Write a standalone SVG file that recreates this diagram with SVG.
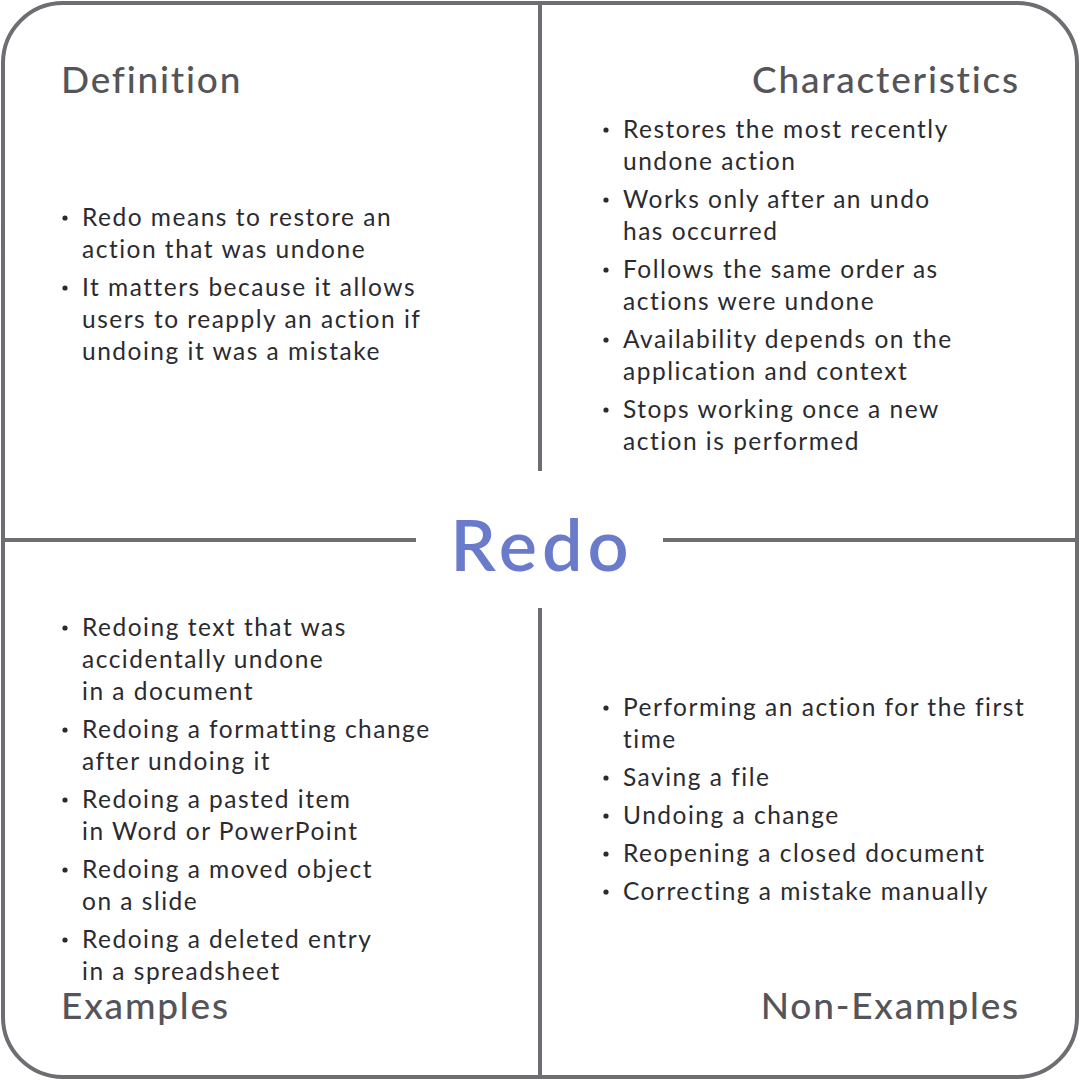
<svg xmlns="http://www.w3.org/2000/svg" width="1080" height="1080" viewBox="0 0 1080 1080">
<style>
.ln{stroke:#6d6d72;stroke-width:4;fill:none}
.h{font-family:Lato,"Open Sans",sans-serif;font-size:37px;fill:#555559;font-weight:500;letter-spacing:1.8px}
.t{font-family:Lato,"Open Sans",sans-serif;font-size:24.5px;fill:#2b2b2f;letter-spacing:1.5px}
.c{font-family:Lato,"Open Sans",sans-serif;font-size:72px;fill:#6b7bcb;font-weight:600;letter-spacing:5px}
.b{fill:#2b2b2f}
</style>
<rect width="1080" height="1080" fill="#fff"/>
<g id="connectors">
<rect class="ln" x="3" y="3" width="1074" height="1074" rx="60"/>
<line class="ln" x1="540" y1="3" x2="540" y2="471"/>
<line class="ln" x1="540" y1="608" x2="540" y2="1077"/>
<line class="ln" x1="3" y1="540" x2="416" y2="540"/>
<line class="ln" x1="663" y1="540" x2="1077" y2="540"/>
</g>
<defs><circle id="d" r="2.6" class="b"/></defs>
<g id="center"><text class="c" x="542" y="571" text-anchor="middle">Redo</text></g>
<g id="definition">
<text class="h" x="61" y="93">Definition</text>
<use href="#d" x="65" y="218"/><text class="t" x="82" y="226">Redo means to restore an</text>
<text class="t" x="82" y="258">action that was undone</text>
<use href="#d" x="65" y="288"/><text class="t" x="82" y="296">It matters because it allows</text>
<text class="t" x="82" y="328">users to reapply an action if</text>
<text class="t" x="82" y="360">undoing it was a mistake</text>
</g>
<g id="characteristics">
<text class="h" x="1020" y="93" text-anchor="end">Characteristics</text>
<use href="#d" x="606" y="130"/><text class="t" x="623" y="138">Restores the most recently</text>
<text class="t" x="623" y="170">undone action</text>
<use href="#d" x="606" y="200"/><text class="t" x="623" y="208">Works only after an undo</text>
<text class="t" x="623" y="240">has occurred</text>
<use href="#d" x="606" y="270"/><text class="t" x="623" y="278">Follows the same order as</text>
<text class="t" x="623" y="310">actions were undone</text>
<use href="#d" x="606" y="340"/><text class="t" x="623" y="348">Availability depends on the</text>
<text class="t" x="623" y="380">application and context</text>
<use href="#d" x="606" y="410"/><text class="t" x="623" y="418">Stops working once a new</text>
<text class="t" x="623" y="450">action is performed</text>
</g>
<g id="examples">
<text class="h" x="61" y="1019">Examples</text>
<use href="#d" x="65" y="628"/><text class="t" x="82" y="636">Redoing text that was</text>
<text class="t" x="82" y="668">accidentally undone</text>
<text class="t" x="82" y="700">in a document</text>
<use href="#d" x="65" y="730"/><text class="t" x="82" y="738">Redoing a formatting change</text>
<text class="t" x="82" y="770">after undoing it</text>
<use href="#d" x="65" y="800"/><text class="t" x="82" y="808">Redoing a pasted item</text>
<text class="t" x="82" y="840">in Word or PowerPoint</text>
<use href="#d" x="65" y="870"/><text class="t" x="82" y="878">Redoing a moved object</text>
<text class="t" x="82" y="910">on a slide</text>
<use href="#d" x="65" y="940"/><text class="t" x="82" y="948">Redoing a deleted entry</text>
<text class="t" x="82" y="980">in a spreadsheet</text>
</g>
<g id="nonexamples">
<text class="h" x="1020" y="1019" text-anchor="end">Non-Examples</text>
<use href="#d" x="606" y="708"/><text class="t" x="623" y="716">Performing an action for the first</text>
<text class="t" x="623" y="748">time</text>
<use href="#d" x="606" y="778"/><text class="t" x="623" y="786">Saving a file</text>
<use href="#d" x="606" y="816"/><text class="t" x="623" y="824">Undoing a change</text>
<use href="#d" x="606" y="854"/><text class="t" x="623" y="862">Reopening a closed document</text>
<use href="#d" x="606" y="892"/><text class="t" x="623" y="900">Correcting a mistake manually</text>
</g>
</svg>
